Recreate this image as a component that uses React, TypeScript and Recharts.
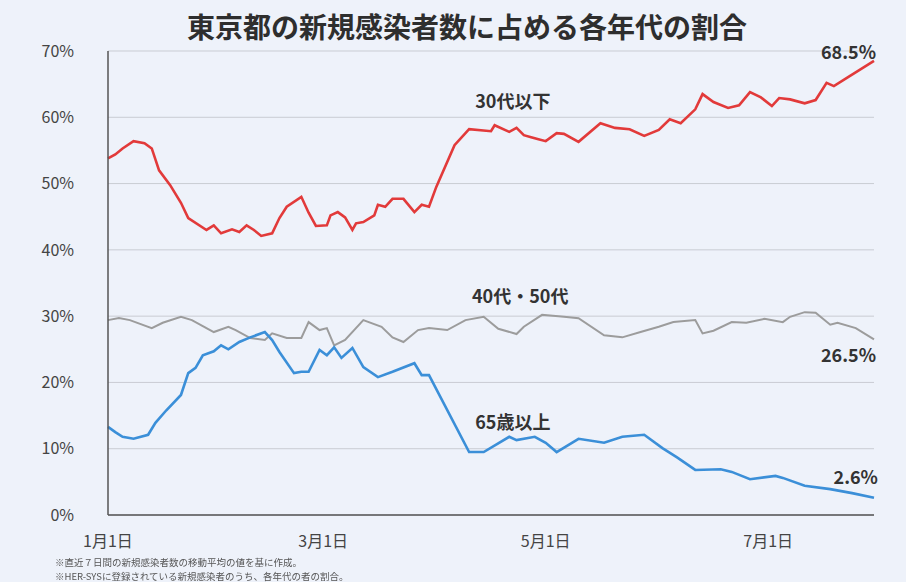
import { LineChart, Line, XAxis, YAxis, CartesianGrid, ReferenceDot } from "recharts"

const FONT = '"Noto Sans CJK JP", "Noto Sans", sans-serif'

// day index from 1月1日
const monthTicks = [0, 59, 120, 181]
const monthLabels = ["1月1日", "3月1日", "5月1日", "7月1日"]
const yTicks = [0, 10, 20, 30, 40, 50, 60, 70]

const under30Days = [0, 2, 4, 7, 10, 12, 14, 17, 20, 22, 27, 29, 31, 34, 36, 38, 40, 42, 45, 47, 49, 53, 55, 57, 60, 61, 63, 65, 67, 68, 70, 73, 74, 76, 78, 81, 84, 86, 88, 90, 95, 99, 105, 106, 110, 112, 114, 116, 118, 120, 123, 125, 129, 135, 139, 143, 147, 151, 154, 157, 161, 163, 166, 170, 173, 176, 179, 182, 184, 187, 191, 194, 197, 199, 203, 210]
const under30 = [53.8, 54.4, 55.3, 56.4, 56.1, 55.3, 52.0, 49.8, 47.1, 44.8, 43.0, 43.7, 42.5, 43.1, 42.7, 43.7, 43.0, 42.1, 42.5, 44.8, 46.5, 48.0, 45.6, 43.6, 43.7, 45.2, 45.7, 44.9, 43.0, 44.0, 44.2, 45.2, 46.8, 46.5, 47.7, 47.7, 45.7, 46.8, 46.5, 49.5, 55.8, 58.2, 57.9, 58.8, 57.8, 58.4, 57.3, 57.0, 56.7, 56.4, 57.6, 57.5, 56.3, 59.1, 58.4, 58.2, 57.2, 58.1, 59.7, 59.1, 61.2, 63.5, 62.3, 61.4, 61.8, 63.8, 63.0, 61.7, 62.9, 62.7, 62.1, 62.6, 65.2, 64.7, 66.1, 68.5]

const age4050Days = [0, 3, 6, 12, 15, 20, 23, 29, 33, 35, 39, 43, 45, 49, 53, 55, 58, 60, 62, 65, 70, 75, 78, 81, 85, 88, 93, 98, 103, 107, 112, 114, 119, 125, 129, 136, 141, 146, 151, 155, 161, 163, 166, 171, 175, 180, 185, 187, 191, 194, 198, 200, 205, 210]
const age4050 = [29.4, 29.7, 29.4, 28.2, 29.0, 29.9, 29.4, 27.6, 28.4, 27.9, 26.7, 26.4, 27.4, 26.7, 26.7, 29.1, 27.9, 28.2, 25.6, 26.4, 29.4, 28.4, 26.8, 26.1, 27.9, 28.2, 27.9, 29.4, 29.9, 28.1, 27.3, 28.4, 30.2, 29.9, 29.7, 27.1, 26.8, 27.6, 28.4, 29.1, 29.4, 27.4, 27.8, 29.1, 29.0, 29.6, 29.1, 29.9, 30.6, 30.5, 28.7, 29.0, 28.2, 26.5]

const over65Days = [0, 2, 4, 7, 11, 13, 16, 20, 22, 24, 26, 29, 31, 33, 36, 39, 43, 45, 47, 51, 53, 55, 58, 60, 62, 64, 67, 70, 74, 78, 84, 86, 88, 99, 103, 110, 112, 117, 120, 123, 129, 136, 141, 147, 152, 156, 161, 168, 171, 176, 183, 185, 191, 198, 204, 210]
const over65 = [13.3, 12.5, 11.8, 11.5, 12.1, 13.9, 15.8, 18.1, 21.4, 22.2, 24.1, 24.7, 25.6, 25.0, 26.1, 26.8, 27.6, 26.4, 24.6, 21.4, 21.6, 21.6, 24.9, 24.1, 25.3, 23.7, 25.2, 22.3, 20.8, 21.6, 22.9, 21.1, 21.1, 9.5, 9.5, 11.8, 11.3, 11.8, 10.9, 9.5, 11.5, 10.9, 11.8, 12.1, 10.1, 8.7, 6.8, 6.9, 6.5, 5.4, 5.9, 5.6, 4.4, 3.9, 3.3, 2.6]

const toPoints = (days: number[], vals: number[]) => days.map((d, i) => ({ d, v: vals[i] }))

const labelStyle = { fontSize: 18, fontWeight: 700, fill: "#333", fontFamily: FONT }

const notes = [
  "※直近７日間の新規感染者数の移動平均の値を基に作成。",
  "※HER-SYSに登録されている新規感染者のうち、各年代の者の割合。",
]

function Note({ x, y, v }: { x: number; y: number; v: string }) {
  return (
    <ReferenceDot
      x={x}
      y={y}
      r={0}
      ifOverflow="visible"
      label={{ value: v, position: "center", ...labelStyle }}
    />
  )
}

export default function App() {
  return (
    <div
      style={{
        position: "fixed",
        left: 0,
        top: 0,
        width: 906,
        height: 582,
        background: "#eef2fa",
        fontFamily: FONT,
      }}
    >
      <div
        style={{
          position: "absolute",
          left: 187,
          width: 558,
          top: 6,
          textAlign: "center",
          fontSize: 28,
          fontWeight: 700,
          lineHeight: "40px",
          color: "#2e2e2e",
          whiteSpace: "nowrap",
        }}
      >
        東京都の新規感染者数に占める各年代の割合
      </div>
      <div style={{ position: "absolute", left: 0, top: 0 }}>
        <LineChart width={906} height={582} margin={{ top: 51, right: 32, bottom: 37, left: 48 }}>
          <CartesianGrid vertical={false} stroke="#c9ccd3" strokeWidth={1} />
          <XAxis
            dataKey="d"
            type="number"
            domain={[0, 210]}
            ticks={monthTicks}
            tickFormatter={(d: number) => monthLabels[monthTicks.indexOf(d)]}
            tick={{ fontSize: 16, fill: "#444", fontFamily: FONT }}
            tickLine={false}
            axisLine={{ stroke: "#555", strokeWidth: 1.5 }}
            tickMargin={15}
            height={30}
            allowDuplicatedCategory={false}
          />
          <YAxis
            type="number"
            domain={[0, 70]}
            ticks={yTicks}
            width={60}
            tickFormatter={(v: number) => `${v}%`}
            tick={{ fontSize: 16, fill: "#444", fontFamily: FONT }}
            tickLine={false}
            axisLine={{ stroke: "#555", strokeWidth: 1.5 }}
            tickMargin={28}
          />
          <Line
            data={toPoints(under30Days, under30)}
            dataKey="v"
            type="linear"
            stroke="#e23a3a"
            strokeWidth={2.6}
            dot={false}
            isAnimationActive={false}
          />
          <Line
            data={toPoints(age4050Days, age4050)}
            dataKey="v"
            type="linear"
            stroke="#9c9c9c"
            strokeWidth={2}
            dot={false}
            isAnimationActive={false}
          />
          <Line
            data={toPoints(over65Days, over65)}
            dataKey="v"
            type="linear"
            stroke="#3b8fd8"
            strokeWidth={2.6}
            dot={false}
            isAnimationActive={false}
          />
          <Note x={203} y={69.8} v="68.5%" />
          <Note x={111} y={62.3} v="30代以下" />
          <Note x={113} y={32.9} v="40代・50代" />
          <Note x={203} y={24.1} v="26.5%" />
          <Note x={111} y={14.0} v="65歳以上" />
          <Note x={205} y={5.6} v="2.6%" />
        </LineChart>
      </div>
      <div
        style={{
          position: "absolute",
          left: 55,
          top: 555,
          fontSize: 9.5,
          lineHeight: "14px",
          color: "#555",
        }}
      >
        {notes.map((n) => (
          <div key={n}>{n}</div>
        ))}
      </div>
    </div>
  )
}
